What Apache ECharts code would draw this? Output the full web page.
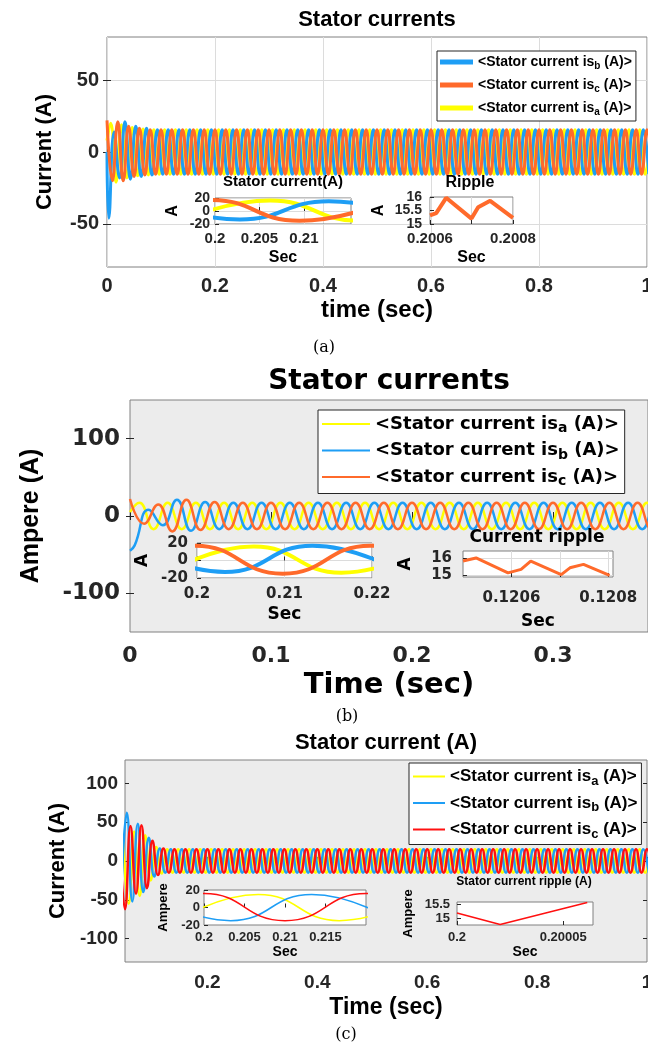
<!DOCTYPE html>
<html>
<head>
<meta charset="utf-8">
<script src="https://cdn.jsdelivr.net/npm/echarts@6/dist/echarts.min.js"></script>
<style>
html, body { margin: 0; padding: 0; background: #fff; }
#chart { width: 648px; height: 1057px; }
</style>
</head>
<body>
<div id="chart"></div>
<script>
// times (s) of the extrema of each phase, shared by the three panels
const tA = [0,
  0.0067,0.0167,0.0267,0.0367,0.0467,0.0567,0.0667,0.0767,0.0867,0.0967,
  0.1067,0.1167,0.1267,0.1367,0.1467,0.1567,0.1667,0.1767,0.1867,0.1967,
  0.2067,0.2167,0.2267,0.2367,0.2467,0.2567,0.2667,0.2767,0.2867,0.2967,
  0.3067,0.3167,0.3267,0.3367,0.3467,0.3567,0.3667,0.3767,0.3867,0.3967,
  0.4067,0.4167,0.4267,0.4367,0.4467,0.4567,0.4667,0.4767,0.4867,0.4967,
  0.5067,0.5167,0.5267,0.5367,0.5467,0.5567,0.5667,0.5767,0.5867,0.5967,
  0.6067,0.6167,0.6267,0.6367,0.6467,0.6567,0.6667,0.6767,0.6867,0.6967,
  0.7067,0.7167,0.7267,0.7367,0.7467,0.7567,0.7667,0.7767,0.7867,0.7967,
  0.8067,0.8167,0.8267,0.8367,0.8467,0.8567,0.8667,0.8767,0.8867,0.8967,
  0.9067,0.9167,0.9267,0.9367,0.9467,0.9567,0.9667,0.9767,0.9867,0.9967,
  1.0067];
const tB = [0,
  0.0033,0.0133,0.0233,0.0333,0.0433,0.0533,0.0633,0.0733,0.0833,0.0933,
  0.1033,0.1133,0.1233,0.1333,0.1433,0.1533,0.1633,0.1733,0.1833,0.1933,
  0.2033,0.2133,0.2233,0.2333,0.2433,0.2533,0.2633,0.2733,0.2833,0.2933,
  0.3033,0.3133,0.3233,0.3333,0.3433,0.3533,0.3633,0.3733,0.3833,0.3933,
  0.4033,0.4133,0.4233,0.4333,0.4433,0.4533,0.4633,0.4733,0.4833,0.4933,
  0.5033,0.5133,0.5233,0.5333,0.5433,0.5533,0.5633,0.5733,0.5833,0.5933,
  0.6033,0.6133,0.6233,0.6333,0.6433,0.6533,0.6633,0.6733,0.6833,0.6933,
  0.7033,0.7133,0.7233,0.7333,0.7433,0.7533,0.7633,0.7733,0.7833,0.7933,
  0.8033,0.8133,0.8233,0.8333,0.8433,0.8533,0.8633,0.8733,0.8833,0.8933,
  0.9033,0.9133,0.9233,0.9333,0.9433,0.9533,0.9633,0.9733,0.9833,0.9933,
  1.0033];
const tC = [0,
  0.01,0.02,0.03,0.04,0.05,0.06,0.07,0.08,0.09,0.1,
  0.11,0.12,0.13,0.14,0.15,0.16,0.17,0.18,0.19,0.2,
  0.21,0.22,0.23,0.24,0.25,0.26,0.27,0.28,0.29,0.3,
  0.31,0.32,0.33,0.34,0.35,0.36,0.37,0.38,0.39,0.4,
  0.41,0.42,0.43,0.44,0.45,0.46,0.47,0.48,0.49,0.5,
  0.51,0.52,0.53,0.54,0.55,0.56,0.57,0.58,0.59,0.6,
  0.61,0.62,0.63,0.64,0.65,0.66,0.67,0.68,0.69,0.7,
  0.71,0.72,0.73,0.74,0.75,0.76,0.77,0.78,0.79,0.8,
  0.81,0.82,0.83,0.84,0.85,0.86,0.87,0.88,0.89,0.9,
  0.91,0.92,0.93,0.94,0.95,0.96,0.97,0.98,0.99,1,
  1.01];

// panel (a) currents at those times (A)
const aIa = [8,
  20,-21,19,-18,17,-16.5,16,-16,15.5,-15.5,
  15.5,-15.5,15.5,-15.5,15.5,-15.5,15.5,-15.5,15.5,-15.5,15.5,-15.5,15.5,-15.5,15.5,-15.5,15.5,-15.5,15.5,-15.5,
  15.5,-15.5,15.5,-15.5,15.5,-15.5,15.5,-15.5,15.5,-15.5,15.5,-15.5,15.5,-15.5,15.5,-15.5,15.5,-15.5,15.5,-15.5,
  15.5,-15.5,15.5,-15.5,15.5,-15.5,15.5,-15.5,15.5,-15.5,15.5,-15.5,15.5,-15.5,15.5,-15.5,15.5,-15.5,15.5,-15.5,
  15.5,-15.5,15.5,-15.5,15.5,-15.5,15.5,-15.5,15.5,-15.5,15.5,-15.5,15.5,-15.5,15.5,-15.5,15.5,-15.5,15.5,-15.5,
  15.5,-15.5,15.5,-15.5,15.5,-15.5,15.5,-15.5,15.5,-15.5,
  15.5];
const aIb = [0,
  -46,14,-18,21,-19,18,-17,16.5,-16,15.5,
  -15.5,15.5,-15.5,15.5,-15.5,15.5,-15.5,15.5,-15.5,15.5,-15.5,15.5,-15.5,15.5,-15.5,15.5,-15.5,15.5,-15.5,15.5,
  -15.5,15.5,-15.5,15.5,-15.5,15.5,-15.5,15.5,-15.5,15.5,-15.5,15.5,-15.5,15.5,-15.5,15.5,-15.5,15.5,-15.5,15.5,
  -15.5,15.5,-15.5,15.5,-15.5,15.5,-15.5,15.5,-15.5,15.5,-15.5,15.5,-15.5,15.5,-15.5,15.5,-15.5,15.5,-15.5,15.5,
  -15.5,15.5,-15.5,15.5,-15.5,15.5,-15.5,15.5,-15.5,15.5,-15.5,15.5,-15.5,15.5,-15.5,15.5,-15.5,15.5,-15.5,15.5,
  -15.5,15.5,-15.5,15.5,-15.5,15.5,-15.5,15.5,-15.5,15.5,
  -15.5];
const aIc = [22,
  -20,21,-20,18,-17,16.5,-16,15.5,-15.5,15.5,
  -15.5,15.5,-15.5,15.5,-15.5,15.5,-15.5,15.5,-15.5,15.5,-15.5,15.5,-15.5,15.5,-15.5,15.5,-15.5,15.5,-15.5,15.5,
  -15.5,15.5,-15.5,15.5,-15.5,15.5,-15.5,15.5,-15.5,15.5,-15.5,15.5,-15.5,15.5,-15.5,15.5,-15.5,15.5,-15.5,15.5,
  -15.5,15.5,-15.5,15.5,-15.5,15.5,-15.5,15.5,-15.5,15.5,-15.5,15.5,-15.5,15.5,-15.5,15.5,-15.5,15.5,-15.5,15.5,
  -15.5,15.5,-15.5,15.5,-15.5,15.5,-15.5,15.5,-15.5,15.5,-15.5,15.5,-15.5,15.5,-15.5,15.5,-15.5,15.5,-15.5,15.5,
  -15.5,15.5,-15.5,15.5,-15.5,15.5,-15.5,15.5,-15.5,15.5,
  -15.5];

// panel (b) currents (A), first 40 extrema
const bIa = [5,
  17,-17,17,-17,17,-17,17,-17,17,-17,17,-17,17,-17,17,-17,17,-17,17,-17,
  17,-17,17,-17,17,-17,17,-17,17,-17,17,-17,17,-17,17,-17,17,-17,
  17];
const bIb = [-45,
  -38,8,-12,21,-19,18,-17,17,-17,17,
  -17,17,-17,17,-17,17,-17,17,-17,17,-17,17,-17,17,-17,17,-17,17,-17,17,
  -17,17,-17,17,-17,17,-17,17,
  -17];
const bIc = [22,
  -10,15,-20,21,-18,18,-17,17,-17,17,
  -17,17,-17,17,-17,17,-17,17,-17,17,-17,17,-17,17,-17,17,-17,17,-17,17,
  -17,17,-17,17,-17,17,-17,17,
  -17];

// panel (c) currents (A); the plot starts at 0.05 s
const cIa = [null,null,null,null,null,
  30,-55,38,-45,33,-25,18,-16,
  15,-15,15,-15,15,-15,15,-15,15,-15,15,-15,15,-15,15,-15,15,-15,15,-15,
  15,-15,15,-15,15,-15,15,-15,15,-15,15,-15,15,-15,15,-15,15,-15,15,-15,
  15,-15,15,-15,15,-15,15,-15,15,-15,15,-15,15,-15,15,-15,15,-15,15,-15,
  15,-15,15,-15,15,-15,15,-15,15,-15,15,-15,15,-15,15,-15,15,-15,15,-15,
  15,-15,15,-15,15,-15,15,-15,
  15];
const cIb = [null,null,null,null,null,
  -40,62,-52,48,-40,30,-20,16,
  -15,15,-15,15,-15,15,-15,15,-15,15,-15,15,-15,15,-15,15,-15,15,-15,15,
  -15,15,-15,15,-15,15,-15,15,-15,15,-15,15,-15,15,-15,15,-15,15,-15,15,
  -15,15,-15,15,-15,15,-15,15,-15,15,-15,15,-15,15,-15,15,-15,15,-15,15,
  -15,15,-15,15,-15,15,-15,15,-15,15,-15,15,-15,15,-15,15,-15,15,-15,15,
  -15,15,-15,15,-15,15,-15,15,
  -15];
const cIc = [null,null,null,null,
  40,-62,45,-42,46,-35,26,-18,16,
  -15,15,-15,15,-15,15,-15,15,-15,15,-15,15,-15,15,-15,15,-15,15,-15,15,
  -15,15,-15,15,-15,15,-15,15,-15,15,-15,15,-15,15,-15,15,-15,15,-15,15,
  -15,15,-15,15,-15,15,-15,15,-15,15,-15,15,-15,15,-15,15,-15,15,-15,15,
  -15,15,-15,15,-15,15,-15,15,-15,15,-15,15,-15,15,-15,15,-15,15,-15,15,
  -15,15,-15,15,-15,15,-15,15,
  -15];

// zoomed sine windows [t, A]
const a1Ia = [[0.1962,-15],[0.2062,16],[0.2162,-15],[0.2262,16]];
const a1Ib = [[0.1928,15],[0.2028,-13],[0.2128,15],[0.2228,-13]];
const a1Ic = [[0.1895,-15],[0.1995,17],[0.2095,-15],[0.2195,16]];
const b1Ia = [[0.1965,-15],[0.2065,16],[0.2165,-14],[0.2265,16]];
const b1Ib = [[0.1932,16],[0.2032,-13],[0.2132,17],[0.2232,-13]];
const b1Ic = [[0.1898,-15],[0.1998,17],[0.2098,-15],[0.2198,17],[0.2298,-15]];
const c1Ia = [[0.1967,-15],[0.2067,15],[0.2167,-15],[0.2267,15]];
const c1Ib = [[0.1933,15],[0.2033,-15],[0.2133,15],[0.2233,-15]];
const c1Ic = [[0.19,-15],[0.2,16],[0.21,-15],[0.22,16],[0.23,-15]];

// ripple windows
const a2T = [0.2006, 0.200615, 0.200639, 0.2007, 0.200716, 0.200745, 0.2008];
const a2V = [15.32, 15.4, 15.97, 15.2, 15.62, 15.86, 15.23];
const b2T = [0.1205, 0.120527, 0.120593, 0.12062, 0.12064, 0.120703, 0.120721, 0.120749, 0.120803];
const b2V = [15.82, 16.0, 15.14, 15.34, 15.82, 15.04, 15.43, 15.63, 15.0];
const c2T = [0.2, 0.2000203, 0.2000613];
const c2V = [15.19, 14.77, 15.58];

// tick labels
const aXTicks = [0, 0.2, 0.4, 0.6, 0.8, 1];
const aYTicks = [-50, 0, 50];
const a1XTicks = [0.2, 0.205, 0.21];
const a2XTicks = [0.2006, 0.2007, 0.2008];
const a2XLabels = [0.2006, 0.2008];
const a2YTicks = [15, 15.5, 16];
const a2YEnds = [15, 16];
const a2YMid = [15.5];
const bXTicks = [0, 0.1, 0.2, 0.3];
const bYTicks = [-100, 0, 100];
const b1XTicks = [0.2, 0.21, 0.22];
const b2XTicks = [0.1206, 0.1207, 0.1208];
const b2XLabels = [0.1206, 0.1208];
const b2YTicks = [15, 16];
const cXTicks = [0.2, 0.4, 0.6, 0.8, 1];
const cYTicks = [-100, -50, 0, 50, 100];
const c1XTicks = [0.2, 0.205, 0.21, 0.215];
const c2XTicks = [0.2, 0.20005];
const c2YTicks = [15, 15.5];
const sineTicks = [-20, 0, 20];
const sineEnds = [-20, 20];
const sineMid = [0];

const YEL = '#ffff00', BLU = '#1e9ef5', ORA = '#ff6a2b', RED = '#ff1010';
const LS = 'Liberation Sans', DJ = 'DejaVu Sans';
const INK = '#262626';

const legendText = {
  a: '<Stator current is{s|a} (A)>',
  b: '<Stator current is{s|b} (A)>',
  c: '<Stator current is{s|c} (A)>'
};

function pairs(t, v) { return v.map((y, i) => [t[i], y]); }
function fmt(v) { return String(+Number(v).toPrecision(10)); }

const myChart = echarts.init(document.getElementById('chart'), null, { renderer: 'canvas' });

function axis(gi, min, max, ticks, o) {
  return {
    type: 'value', gridIndex: gi, min: min, max: max, z: o.z || 0,
    position: o.pos,
    axisLine: { show: false },
    axisTick: { show: !o.noTick, inside: true, length: o.tickLen || 4, customValues: ticks, lineStyle: { color: INK } },
    axisLabel: {
      customValues: o.labels || ticks, formatter: fmt, margin: o.margin,
      showMinLabel: true, showMaxLabel: true, hideOverlap: false,
      fontFamily: o.font, fontWeight: 'bold', fontSize: o.size, color: INK
    },
    splitLine: { show: !!o.split, lineStyle: { color: '#dcdcdc', width: 1 } },
    name: o.name, nameLocation: 'middle', nameGap: o.nameGap,
    nameTextStyle: { fontFamily: o.nameFont || o.font, fontWeight: 'bold', fontSize: o.nameSize, color: '#000' }
  };
}

// tick marks on the top / right edges of a main box
function mirror(gi, min, max, ticks, pos) {
  return {
    type: 'value', gridIndex: gi, min: min, max: max, position: pos,
    axisLine: { show: false },
    axisTick: { show: true, inside: true, length: 4, customValues: ticks, lineStyle: { color: INK } },
    axisLabel: { show: false }, splitLine: { show: false }
  };
}

function line(gi, name, data, color, width, z, smooth) {
  return {
    type: 'line', name: name, xAxisIndex: gi, yAxisIndex: gi, data: data,
    showSymbol: false, symbol: 'none', smooth: smooth === false ? false : 0.5,
    z: z, color: color, itemStyle: { color: color },
    lineStyle: { color: color, width: width }, animation: false, silent: true
  };
}

function grid(left, top, width, height, bg, z) {
  return {
    left: left, top: top, width: width, height: height, show: true,
    backgroundColor: bg, borderColor: '#808080', borderWidth: 1, z: z || 0,
    containLabel: false, outerBoundsMode: 'none'
  };
}

function legend(names, left, top, o) {
  return {
    orient: 'vertical', left: left, top: top, data: names, icon: 'rect',
    itemWidth: o.w, itemHeight: o.h, itemGap: o.gap, padding: o.pad,
    borderColor: INK, borderWidth: 1, backgroundColor: '#fff', borderRadius: 0,
    selectedMode: false,
    formatter: n => legendText[n.slice(2)],
    textStyle: {
      fontFamily: o.font, fontWeight: 'bold', fontSize: o.size, color: '#000',
      rich: { s: { fontFamily: o.font, fontWeight: 'bold', fontSize: o.size - 4, padding: [o.sub, 0, 0, 0] } }
    }
  };
}

function title(text, x, y, font, size, weight) {
  return {
    text: text, left: x, top: y, textAlign: 'center', padding: 0,
    textStyle: { fontFamily: font, fontSize: size, fontWeight: weight || 'bold', color: '#000' }
  };
}

const option = {
  animation: false,
  backgroundColor: '#fff',
  title: [
    title('Stator currents', 377, 9, LS, 22),
    title('(a)', 324, 340, 'DejaVu Serif', 16, 'normal'),
    title('Stator current(A)', 283, 174, LS, 15),
    title('Ripple', 470, 175, LS, 16),
    title('Stator currents', 389, 368, DJ, 28),
    title('(b)', 347, 709, 'DejaVu Serif', 16, 'normal'),
    title('Current ripple', 537, 529, DJ, 17),
    title('Stator current (A)', 386, 732, LS, 22),
    title('(c)', 346, 1027, 'DejaVu Serif', 16, 'normal'),
    title('Stator current ripple (A)', 524, 876, LS, 12)
  ],
  legend: [
    legend(['a_b', 'a_c', 'a_a'], 437, 51, { w: 33, h: 5, gap: 7, pad: [4, 4, 4, 3], font: LS, size: 14, sub: 8 }),
    legend(['b_a', 'b_b', 'b_c'], 318, 410, { w: 48, h: 2, gap: 6, pad: [5, 5, 5, 4], font: DJ, size: 18, sub: 9 }),
    legend(['c_a', 'c_b', 'c_c'], 409, 763, { w: 32, h: 2, gap: 7, pad: [5, 4, 4, 4], font: LS, size: 17, sub: 9 })
  ],
  grid: [
    grid(107, 37, 540, 230, '#fff'),
    grid(215, 198, 136, 26, 'transparent', 3),
    grid(430, 197, 83, 27, 'transparent', 3),
    grid(130, 400, 518, 232, '#ececec'),
    grid(197, 543, 175, 35, '#fff', 3),
    grid(463, 551, 150, 26, '#fff', 3),
    grid(125, 760, 522, 202, '#ececec'),
    grid(204, 890, 162, 35, '#fff', 3),
    grid(457, 902, 136, 23, '#fff', 3)
  ],
  xAxis: [
    axis(0, 0, 1, aXTicks, { font: LS, size: 20, margin: 9, split: true, name: 'time (sec)', nameSize: 24, nameGap: 31 }),
    axis(1, 0.2, 0.2153, a1XTicks, { z: 3, font: LS, size: 15, margin: 7, split: true, name: 'Sec', nameSize: 16, nameGap: 26 }),
    axis(2, 0.2006, 0.2008, a2XTicks, { z: 3, labels: a2XLabels, font: LS, size: 15, margin: 7, split: true, name: 'Sec', nameSize: 16, nameGap: 26 }),
    axis(3, 0, 0.3674, bXTicks, { font: DJ, size: 22, margin: 13, name: 'Time (sec)', nameSize: 29, nameGap: 39 }),
    axis(4, 0.2, 0.22, b1XTicks, { z: 3, font: DJ, size: 15, margin: 9, split: true, name: 'Sec', nameSize: 17, nameGap: 28 }),
    axis(5, 0.1205, 0.12081, b2XTicks, { z: 3, labels: b2XLabels, font: DJ, size: 15, margin: 14, split: true, name: 'Sec', nameSize: 17, nameGap: 36 }),
    axis(6, 0.05, 1, cXTicks, { font: LS, size: 19, margin: 11, name: 'Time (sec)', nameSize: 23, nameGap: 34 }),
    axis(7, 0.2, 0.22, c1XTicks, { z: 3, font: LS, size: 13, margin: 6, name: 'Sec', nameSize: 14, nameGap: 20 }),
    axis(8, 0.2, 0.200064, c2XTicks, { z: 3, font: LS, size: 13, margin: 6, name: 'Sec', nameSize: 14, nameGap: 20 }),
    mirror(0, 0, 1, aXTicks, 'top'),
    mirror(3, 0, 0.3674, bXTicks, 'top'),
    mirror(6, 0.05, 1, cXTicks, 'top')
  ],
  yAxis: [
    axis(0, -80, 80, aYTicks, { font: LS, size: 20, margin: 8, split: true, name: 'Current (A)', nameSize: 22, nameGap: 51 }),
    axis(1, -20, 20, sineTicks, { z: 3, labels: sineEnds, font: LS, size: 14, margin: 5, split: true, name: 'A', nameSize: 16, nameGap: 34 }),
    axis(2, 15, 16, a2YTicks, { z: 3, labels: a2YEnds, font: LS, size: 14, margin: 8, name: 'A', nameSize: 16, nameGap: 43 }),
    axis(3, -150, 150, bYTicks, { font: DJ, size: 23, margin: 10, name: 'Ampere (A)', nameFont: LS, nameSize: 25, nameGap: 86 }),
    axis(4, -20, 20, sineTicks, { z: 3, font: DJ, size: 15, margin: 9, split: true, name: 'A', nameSize: 17, nameGap: 46 }),
    axis(5, 14.9, 16.4, b2YTicks, { z: 3, font: DJ, size: 15, margin: 11, split: true, name: 'A', nameSize: 17, nameGap: 49 }),
    axis(6, -130, 130, cYTicks, { font: LS, size: 19, margin: 7, name: 'Current (A)', nameSize: 22, nameGap: 52 }),
    axis(7, -20, 20, sineTicks, { z: 3, font: LS, size: 13, margin: 4, name: 'Ampere', nameSize: 13, nameGap: 34 }),
    axis(8, 14.75, 15.6, c2YTicks, { z: 3, font: LS, size: 13, margin: 7, name: 'Ampere', nameSize: 13, nameGap: 42 }),
    mirror(0, -80, 80, aYTicks, 'right'),
    mirror(3, -150, 150, bYTicks, 'right'),
    mirror(6, -130, 130, cYTicks, 'right'),
    // middle labels of the two short insets of (a), kept on their own axes so they are not dropped
    axis(1, -20, 20, sineMid, { z: 3, pos: 'left', noTick: true, font: LS, size: 14, margin: 5 }),
    axis(2, 15, 16, a2YMid, { z: 3, pos: 'left', noTick: true, font: LS, size: 14, margin: 8 })
  ],
  series: [
    line(0, 'a_a', pairs(tA, aIa), YEL, 3, 2),
    line(0, 'a_b', pairs(tB, aIb), BLU, 3, 2),
    line(0, 'a_c', pairs(tC, aIc), ORA, 3, 2),
    line(1, 'a1a', a1Ia, YEL, 4, 4),
    line(1, 'a1b', a1Ib, BLU, 4, 4),
    line(1, 'a1c', a1Ic, ORA, 4, 4),
    line(2, 'a2', pairs(a2T, a2V), ORA, 4, 4, false),
    line(3, 'b_a', pairs(tA, bIa), YEL, 2.5, 2),
    line(3, 'b_b', pairs(tB, bIb), BLU, 2.5, 2),
    line(3, 'b_c', pairs(tC, bIc), ORA, 2.5, 2),
    line(4, 'b1a', b1Ia, YEL, 4, 4),
    line(4, 'b1b', b1Ib, BLU, 4, 4),
    line(4, 'b1c', b1Ic, ORA, 4, 4),
    line(5, 'b2', pairs(b2T, b2V), ORA, 3, 4, false),
    line(6, 'c_a', pairs(tA, cIa), YEL, 2.5, 2),
    line(6, 'c_b', pairs(tB, cIb), BLU, 2.5, 2),
    line(6, 'c_c', pairs(tC, cIc), RED, 2.5, 2),
    line(7, 'c1a', c1Ia, YEL, 1.5, 4),
    line(7, 'c1b', c1Ib, BLU, 1.5, 4),
    line(7, 'c1c', c1Ic, RED, 1.5, 4),
    line(8, 'c2', pairs(c2T, c2V), RED, 1.5, 4, false)
  ]
};

myChart.setOption(option);
</script>
</body>
</html>
